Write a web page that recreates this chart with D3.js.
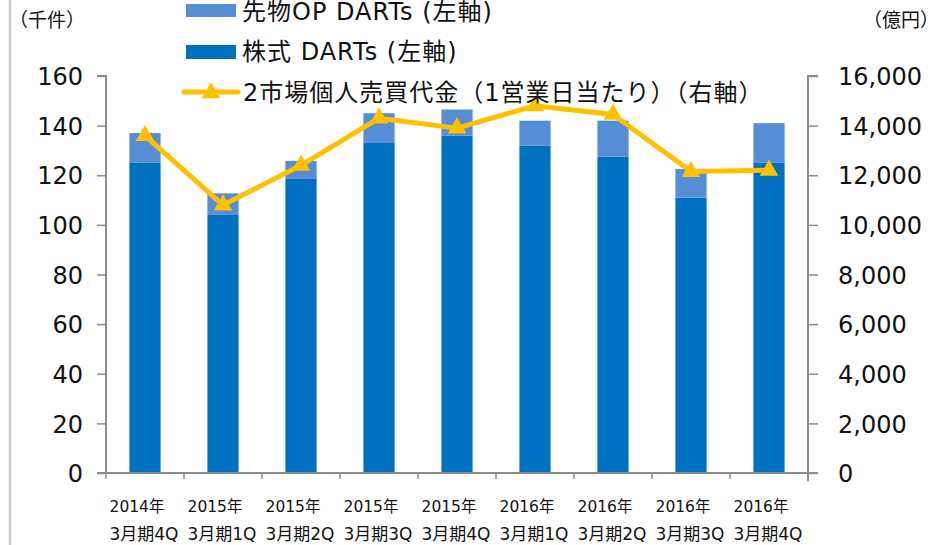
<!DOCTYPE html>
<html>
<head>
<meta charset="utf-8">
<script src="https://cdn.jsdelivr.net/npm/d3@7"></script>
<style>
  body { margin: 0; background: #fff; }
  svg { display: block; }
  text { font-family: "DejaVu Sans", "Noto Sans CJK JP", sans-serif; fill: #111; }
  .jp { font-family: "Noto Sans CJK JP", "DejaVu Sans", sans-serif; }
</style>
</head>
<body>
<div id="chart"></div>
<script>
// quarters (2 line labels)
const years = ["2014年","2015年","2015年","2015年","2015年","2016年","2016年","2016年","2016年"];
const quarters = ["3月期4Q","3月期1Q","3月期2Q","3月期3Q","3月期4Q","3月期1Q","3月期2Q","3月期3Q","3月期4Q"];
// 株式 DARTs (千件)
const stockDarts = [125, 104, 118.5, 133, 136, 132, 127.5, 111, 125];
// 先物OP DARTs (千件), stacked on top
const futuresDarts = [12, 8.7, 7.3, 12, 10.5, 10, 14.5, 11.5, 16];
// 2市場個人売買代金 (億円)
const tradeValue = [13600, 10800, 12400, 14300, 13900, 14800, 14450, 12150, 12200];
const leftTicks = [0, 20, 40, 60, 80, 100, 120, 140, 160];
const rightTicks = [0, 2000, 4000, 6000, 8000, 10000, 12000, 14000, 16000];

const width = 949, height = 545;
const mLeft = 106, mRight = 808, mTop = 76, mBottom = 473;

const colStock = "#0070C0", colFut = "#558ED5", colLine = "#FFC000", colAxis = "#8c8c8c";

const svg = d3.select("#chart").append("svg")
  .attr("width", width).attr("height", height);

// left edge border
svg.append("line")
  .attr("x1", 10).attr("x2", 10).attr("y1", 0).attr("y2", height)
  .attr("stroke", "#c8c8c8").attr("stroke-width", 2.5);

const idx = d3.range(years.length);
const x = d3.scaleBand().domain(idx).range([mLeft, mRight]).paddingInner(0.6).paddingOuter(0.3);
const xb = d3.scaleBand().domain(idx).range([mLeft, mRight]);
const y = d3.scaleLinear().domain([0, 160]).range([mBottom, mTop]);
const y2 = d3.scaleLinear().domain([0, 16000]).range([mBottom, mTop]);

// bars
const g = svg.append("g");
g.selectAll(".stock").data(idx).enter().append("rect")
  .attr("x", i => x(i)).attr("width", x.bandwidth())
  .attr("y", i => y(stockDarts[i])).attr("height", i => y(0) - y(stockDarts[i]))
  .attr("fill", colStock);
g.selectAll(".fut").data(idx).enter().append("rect")
  .attr("x", i => x(i)).attr("width", x.bandwidth())
  .attr("y", i => y(stockDarts[i] + futuresDarts[i]))
  .attr("height", i => y(stockDarts[i]) - y(stockDarts[i] + futuresDarts[i]))
  .attr("fill", colFut);

// left axis
const axL = svg.append("g").attr("transform", `translate(${mLeft},0)`)
  .call(d3.axisLeft(y).tickValues(leftTicks).tickSize(9).tickPadding(14));
axL.selectAll("text").style("font-size", "24px").attr("dy", "0.36em");
// right axis
const axR = svg.append("g").attr("transform", `translate(${mRight},0)`)
  .call(d3.axisRight(y2).tickValues(rightTicks).tickSize(10).tickPadding(20).tickFormat(d3.format(",")));
axR.selectAll("text").style("font-size", "24px").attr("dy", "0.36em");
// x axis
const axB = svg.append("g").attr("transform", `translate(0,${mBottom})`);
axB.append("line").attr("x1", mLeft - 9).attr("x2", mRight + 10)
  .attr("stroke", colAxis).attr("stroke-width", 2);
axB.selectAll(".tk").data(d3.range(years.length + 1)).enter().append("line")
  .attr("x1", i => i < years.length ? xb(i) : mRight)
  .attr("x2", i => i < years.length ? xb(i) : mRight)
  .attr("y1", 0).attr("y2", 6).attr("stroke", colAxis).attr("stroke-width", 1.5);
axB.selectAll(".yr").data(idx).enter().append("text")
  .attr("x", i => xb(i) + xb.bandwidth() / 2 - 8).attr("y", 39)
  .attr("text-anchor", "middle").style("font-size", "15.5px").text(i => years[i]);
axB.selectAll(".qt").data(idx).enter().append("text")
  .attr("x", i => xb(i) + xb.bandwidth() / 2 - 1).attr("y", 67)
  .attr("text-anchor", "middle").style("font-size", "17px").text(i => quarters[i]);

[axL, axR].forEach(a => {
  a.select(".domain").attr("stroke", colAxis).attr("stroke-width", 2);
  a.selectAll(".tick line").attr("stroke", colAxis).attr("stroke-width", 1.5);
  a.selectAll("text").attr("fill", "#111");
});
axL.select(".domain").attr("d", `M-9,${mTop}H0V${mBottom}H-9`);
axR.select(".domain").attr("d", `M10,${mTop}H0V${mBottom + 8}`);

// line
const line = d3.line().x(i => xb(i) + xb.bandwidth() / 2).y(i => y2(tradeValue[i]));
svg.append("path").datum(idx).attr("d", line)
  .attr("fill", "none").attr("stroke", colLine).attr("stroke-width", 5).attr("stroke-linejoin", "round");
const tri = d3.symbol().type(d3.symbolTriangle).size(150);
svg.selectAll(".mk").data(idx).enter().append("path")
  .attr("d", tri)
  .attr("transform", i => `translate(${xb(i) + xb.bandwidth() / 2},${y2(tradeValue[i])})`)
  .attr("fill", colLine);

// unit labels
svg.append("text").attr("class", "jp").attr("x", 9).attr("y", 27).style("font-size", "19px").text("（千件）");
svg.append("text").attr("class", "jp").attr("x", 939).attr("y", 27).attr("text-anchor", "end").style("font-size", "19px").text("（億円）");

// legend
const lg = svg.append("g");
lg.append("rect").attr("x", 186).attr("y", 4).attr("width", 50).attr("height", 13).attr("fill", colFut);
lg.append("text").attr("x", 242).attr("y", 20).style("font-size", "24px").style("letter-spacing", "1px").text("先物OP DARTs (左軸)");
lg.append("rect").attr("x", 186).attr("y", 45).attr("width", 50).attr("height", 14).attr("fill", colStock);
lg.append("text").attr("x", 242).attr("y", 60).style("font-size", "24px").style("letter-spacing", "1px").text("株式 DARTs (左軸)");
lg.append("line").attr("x1", 184).attr("x2", 238).attr("y1", 92).attr("y2", 92)
  .attr("stroke", colLine).attr("stroke-width", 5).attr("stroke-linecap", "round");
lg.append("path").attr("d", tri).attr("transform", "translate(211,93)").attr("fill", colLine);
lg.append("text").attr("x", 243).attr("y", 101).style("font-size", "24px").style("letter-spacing", "1px").text("2市場個人売買代金（1営業日当たり）（右軸）");
</script>
</body>
</html>
